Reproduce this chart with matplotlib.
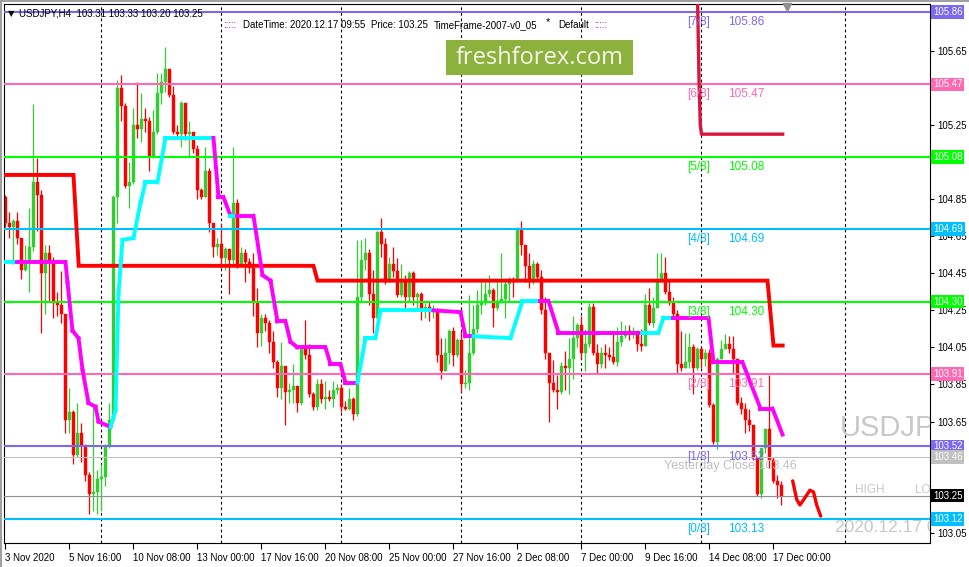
import matplotlib
matplotlib.use('Agg')
import matplotlib.pyplot as plt
from matplotlib.patches import Rectangle

plt.rcParams['font.family'] = ['Liberation Sans', 'DejaVu Sans']

# H4 candles, 3 Nov 2020 00:00 .. 17 Dec 2020 08:00 (bar index 0..194)
first_open = 104.86
closes = [
    104.72, 104.70, 104.73, 104.64, 104.47, 104.50, 104.59, 104.94, 104.87, 104.45,
    104.56, 104.51, 104.29, 104.28, 104.23, 103.66, 103.70, 103.47, 103.59, 103.52,
    103.36, 103.26, 103.27, 103.34, 103.35, 103.52, 103.66, 104.86, 105.45, 105.35,
    104.92, 104.94, 105.25, 105.23, 105.28, 105.27, 105.08, 105.21, 105.42, 105.48,
    105.55, 105.41, 105.21, 105.20, 105.37, 105.20, 105.21, 105.12, 104.90, 104.86,
    105.00, 104.72, 104.59, 104.61, 104.53, 104.58, 104.52, 104.83, 104.50, 104.56,
    104.51, 104.48, 104.29, 104.13, 104.21, 104.18, 104.08, 103.97, 103.83, 103.95,
    103.81, 103.82, 103.84, 103.75, 104.05, 104.01, 103.80, 103.73, 103.85, 103.77,
    103.78, 103.77, 103.82, 103.83, 103.73, 103.72, 103.77, 103.69, 104.32, 104.52,
    104.56, 104.34, 104.21, 104.67, 104.61, 104.40, 104.50, 104.46, 104.33, 104.40,
    104.32, 104.45, 104.32, 104.34, 104.26, 104.27, 104.24, 104.25, 104.01, 103.92,
    104.02, 104.14, 104.01, 104.09, 103.85, 103.86, 104.02, 104.15, 104.28, 104.29,
    104.34, 104.36, 104.26, 104.30, 104.31, 104.39, 104.42, 104.40, 104.69, 104.60,
    104.49, 104.40, 104.50, 104.43, 104.25, 104.02, 103.86, 103.82, 103.81, 103.95,
    103.94, 103.99, 104.10, 104.17, 104.02, 104.07, 104.27, 104.02, 103.96, 104.02,
    104.01, 104.00, 103.97, 104.08, 104.11, 104.14, 104.13, 104.14, 104.07, 104.06,
    104.28, 104.18, 104.26, 104.40, 104.45, 104.35, 104.29, 104.23, 103.96, 103.94,
    103.97, 104.05, 103.94, 104.04, 103.99, 104.02, 103.74, 103.54, 103.99, 104.04,
    104.07, 104.04, 103.99, 103.75, 103.72, 103.66, 103.63, 103.46, 103.26, 103.51,
    103.61, 103.44, 103.33, 103.31, 103.25,
]
highs = [
    104.87, 104.78, 104.74, 104.78, 104.64, 104.60, 104.80, 105.36, 105.07, 104.90,
    104.60, 104.60, 104.54, 104.35, 104.46, 104.23, 103.83, 103.71, 103.75, 103.64,
    103.53, 103.38, 103.73, 103.39, 103.42, 103.53, 103.75, 104.87, 105.49, 105.52,
    105.37, 105.05, 105.34, 105.48, 105.42, 105.34, 105.29, 105.33, 105.53, 105.53,
    105.67, 105.55, 105.46, 105.25, 105.38, 105.37, 105.27, 105.21, 105.14, 104.91,
    105.13, 105.02, 104.72, 104.64, 104.72, 104.59, 104.56, 105.13, 104.85, 104.59,
    104.58, 104.53, 104.56, 104.37, 104.23, 104.23, 104.20, 104.14, 103.98, 104.08,
    103.94, 103.86, 103.96, 103.83, 104.05, 104.20, 104.07, 103.81, 103.88, 103.88,
    103.87, 103.82, 103.87, 103.85, 103.85, 103.76, 103.83, 103.78, 104.63, 104.63,
    104.64, 104.58, 104.47, 104.68, 104.75, 104.64, 104.54, 104.59, 104.53, 104.50,
    104.44, 104.46, 104.46, 104.35, 104.35, 104.29, 104.30, 104.28, 104.26, 104.10,
    104.10, 104.15, 104.16, 104.10, 104.14, 103.93, 104.33, 104.28, 104.36, 104.40,
    104.40, 104.44, 104.37, 104.42, 104.56, 104.42, 104.43, 104.43, 104.70, 104.73,
    104.60, 104.56, 104.52, 104.51, 104.47, 104.32, 104.02, 103.98, 103.90, 103.97,
    104.03, 104.10, 104.22, 104.18, 104.22, 104.15, 104.29, 104.29, 104.07, 104.05,
    104.07, 104.05, 104.12, 104.16, 104.19, 104.17, 104.17, 104.16, 104.14, 104.15,
    104.34, 104.37, 104.32, 104.56, 104.56, 104.54, 104.41, 104.32, 104.25, 104.14,
    104.13, 104.13, 104.07, 104.05, 104.05, 104.04, 104.04, 103.75, 104.00, 104.09,
    104.12, 104.11, 104.11, 103.99, 103.78, 103.75, 103.72, 103.62, 103.46, 103.51,
    103.61, 103.90, 103.46, 103.36, 103.33,
]
lows = [
    104.70, 104.64, 104.50, 104.61, 104.42, 104.46, 104.35, 104.57, 104.68, 104.13,
    104.23, 104.30, 104.21, 104.22, 104.18, 103.59, 103.59, 103.42, 103.46, 103.43,
    103.33, 103.15, 103.17, 103.15, 103.17, 103.30, 103.51, 103.64, 104.72, 105.27,
    104.91, 104.80, 104.93, 105.18, 105.16, 105.21, 105.00, 105.07, 105.20, 105.36,
    105.43, 105.40, 105.20, 105.18, 105.13, 105.17, 105.08, 105.10, 104.85, 104.85,
    104.86, 104.67, 104.54, 104.55, 104.48, 104.47, 104.34, 104.50, 104.48, 104.50,
    104.40, 104.45, 104.22, 104.05, 104.06, 104.14, 104.02, 103.94, 103.78, 103.77,
    103.63, 103.75, 103.75, 103.70, 103.74, 103.99, 103.78, 103.71, 103.71, 103.75,
    103.72, 103.76, 103.73, 103.80, 103.70, 103.71, 103.71, 103.66, 103.68, 104.30,
    104.47, 104.28, 104.13, 104.20, 104.54, 104.39, 104.41, 104.43, 104.32, 104.32,
    104.25, 104.30, 104.28, 104.26, 104.20, 104.21, 104.19, 104.21, 103.97, 103.88,
    103.93, 103.96, 103.95, 104.00, 103.81, 103.83, 103.82, 104.01, 104.13, 104.23,
    104.28, 104.32, 104.16, 104.25, 104.29, 104.21, 104.30, 104.32, 104.41, 104.55,
    104.40, 104.37, 104.39, 104.42, 104.23, 103.99, 103.65, 103.81, 103.72, 103.80,
    103.82, 103.80, 103.88, 104.05, 103.99, 103.92, 104.05, 104.01, 103.91, 103.94,
    103.94, 103.98, 103.96, 103.95, 104.06, 104.10, 104.09, 104.10, 104.03, 104.03,
    104.10, 104.17, 104.16, 104.26, 104.40, 104.34, 104.28, 104.22, 103.91, 103.92,
    103.94, 103.94, 103.80, 103.93, 103.94, 103.95, 103.73, 103.53, 103.50, 103.99,
    104.04, 104.02, 103.91, 103.74, 103.69, 103.59, 103.60, 103.44, 103.25, 103.24,
    103.48, 103.40, 103.32, 103.24, 103.20,
]

# x axis labels every 16 bars
date_ticks = [0, 16, 32, 48, 64, 80, 96, 112, 128, 144, 160, 176, 192]
date_labels = ['3 Nov 2020', '5 Nov 16:00', '10 Nov 08:00', '13 Nov 00:00', '17 Nov 16:00',
               '20 Nov 08:00', '25 Nov 00:00', '27 Nov 16:00', '2 Dec 08:00', '7 Dec 00:00',
               '9 Dec 16:00', '14 Dec 08:00', '17 Dec 00:00']
week_separators = [24, 54, 84, 114, 144, 174, 210]
price_ticks = [103.05, 103.25, 103.45, 103.65, 103.85, 104.05, 104.25, 104.45,
               104.65, 104.85, 105.05, 105.25, 105.45, 105.65, 105.85]
# these tick labels sit right under a price box, so only the tick mark shows
hidden_ticks = [103.25, 103.45, 105.05, 105.45, 105.85]

# Murrey math levels
mm_levels = [103.125, 103.516, 103.906, 104.297, 104.688, 105.078, 105.469, 105.859]
mm_names = ['[0/8]', '[1/8]', '[2/8]', '[3/8]', '[4/8]', '[5/8]', '[6/8]', '[7/8]']
mm_text = ['103.13', '103.52', '103.91', '104.30', '104.69', '105.08', '105.47', '105.86']
mm_colors = ['#00BFFF', '#7B68EE', '#FF69B4', '#00FF00', '#00BFFF', '#00FF00', '#FF69B4', '#7B68EE']

yesterday_close = 103.46
last_price = 103.25

# red step line (higher timeframe)
red_bar = [0, 17, 18.3, 77, 78, 190.5, 192, 194.3]
red_price = [104.98, 104.98, 104.49, 104.49, 104.41, 104.41, 104.06, 104.06]
red2_bar = [173, 173.4, 173.7, 174, 194.3]
red2_price = [105.95, 105.47, 105.25, 105.20, 105.20]

# two-colour trend line: c = rising (aqua), m = falling (magenta)
trend_bar = [0, 3, 15, 15.5, 16.75, 18.25, 19.25, 20.75, 22.5, 23.25,
             26.25, 27.5, 28.25, 29.25, 32, 33.75, 35, 38, 40, 52,
             53.25, 54.5, 56.25, 58, 62, 64.25, 66.25, 68, 70, 71.25,
             73, 80, 81.25, 83.75, 85, 88, 90, 92.5, 93.75, 107,
             113.75, 115, 117, 126.25, 129.25, 133.75, 135.75, 138.25, 159.25, 163.25,
             164.5, 167, 175.75, 177, 184.25, 188.75, 191.75, 194.25]
trend_price = [104.51, 104.51, 104.51, 104.40, 104.14, 104.10, 103.93, 103.75, 103.73, 103.65,
               103.62, 103.71, 104.34, 104.63, 104.64, 104.83, 104.94, 104.94, 105.18, 105.18,
               104.86, 104.86, 104.76, 104.76, 104.76, 104.44, 104.41, 104.19, 104.19, 104.08,
               104.05, 104.05, 103.96, 103.96, 103.86, 103.86, 104.10, 104.10, 104.25, 104.25,
               104.24, 104.11, 104.11, 104.10, 104.30, 104.30, 104.30, 104.13, 104.13, 104.13,
               104.21, 104.21, 104.21, 103.97, 103.97, 103.72, 103.72, 103.58]
trend_col = 'c' + 'mmmmmmmmm' + 'ccccccccc' + 'mmm' + 'c' + 'mmmmmmmmmmmm' + 'cccc' + 'mmm' + 'ccc' + 'mmm' + 'ccc' + 'mmmmmm'

# projected path squiggle
proj_bar = [196.8, 197.8, 198.6, 199.9, 201.1, 202.0, 202.8, 203.8]
proj_price = [103.33, 103.23, 103.20, 103.24, 103.28, 103.27, 103.20, 103.14]

# right axis price boxes
box_values = [105.859, 105.469, 105.078, 104.688, 104.297, 103.906, 103.516, 103.46, 103.25, 103.125]
box_text = ['105.86', '105.47', '105.08', '104.69', '104.30', '103.91', '103.52', '103.46', '103.25', '103.12']
box_colors = ['#7B68EE', '#FF69B4', '#00FF00', '#00BFFF', '#00FF00', '#FF69B4', '#7B68EE', '#C0C0C0', '#000000', '#00BFFF']

W, H = 970, 567
fig = plt.figure(figsize=(W / 100, H / 100), dpi=100)
ax = fig.add_axes([4 / W, 24 / H, 926 / W, 539 / H])
ax.set_xlim(-0.375, 231.125)
ax.set_ylim(102.995, 105.902)

# week separators
for b in week_separators:
    ax.axvline(b, color='black', lw=0.8, ls=(0, (2.5, 2.5)), zorder=1)

# candles
opens = [first_open] + closes[:-1]
for i in range(len(closes)):
    o, c = opens[i], closes[i]
    col = '#32CD32' if c >= o else '#FF0000'
    lo = min(lows[i], o, c)
    hi = max(highs[i], o, c)
    ax.vlines(i, lo, hi, color=col, lw=0.9, zorder=2)
    ax.bar(i, max(abs(c - o), 0.004), bottom=min(o, c), width=0.72,
           color=col, edgecolor=col, lw=0.3, zorder=2)

# murrey levels and labels
for lvl, nm, tx, col in zip(mm_levels, mm_names, mm_text, mm_colors):
    ax.axhline(lvl, color=col, lw=1.5, zorder=3)
    ax.annotate(nm, xy=(170.4, lvl), xytext=(0, -3), textcoords='offset points',
                color=col, fontsize=8.5, ha='left', va='top', zorder=6)
    ax.annotate(tx, xy=(180.6, lvl), xytext=(0, -3), textcoords='offset points',
                color=col, fontsize=8.5, ha='left', va='top', zorder=6)

ax.axhline(yesterday_close, color='#C0C0C0', lw=0.8, zorder=3)
ax.axhline(last_price, color='#8C9090', lw=0.8, zorder=3)
ax.annotate('Yesterday Close 103.46', xy=(164.6, yesterday_close), xytext=(0, -2),
            textcoords='offset points', color='#C0C0C0', fontsize=9, ha='left', va='top', zorder=6)

# red step lines
ax.plot(red_bar, red_price, color='#FF0000', lw=2.8, solid_joinstyle='miter', zorder=4)
ax.plot(red2_bar, red2_price, color='#DC143C', lw=2.4, zorder=4)

# two colour trend line
for k in range(len(trend_bar) - 1):
    col = '#00FFFF' if trend_col[k] == 'c' else '#FF00FF'
    ax.plot(trend_bar[k:k + 2], trend_price[k:k + 2], color=col, lw=2.8,
            solid_capstyle='projecting', zorder=5)

ax.plot(proj_bar, proj_price, color='#FF0000', lw=2.4, solid_capstyle='round', zorder=5)

# right side grey texts (clipped by the chart edge)
ax.text(208.6, 103.615, 'USDJPY', color='#C8C8C8', fontsize=21, va='center', ha='left', clip_on=True)
ax.text(212.4, 103.281, 'HIGH', color='#C8C8C8', fontsize=8.5, va='center', ha='left', clip_on=True)
ax.text(227.4, 103.281, 'LOW', color='#C8C8C8', fontsize=8.5, va='center', ha='left', clip_on=True)
ax.text(207.4, 103.081, '2020.12.17 09:55', color='#C8C8C8', fontsize=12.5, va='center', ha='left', clip_on=True)

# chart shift marker
ax.plot([195.4], [105.886], marker='v', color='#909090', ms=6, clip_on=False, zorder=6)

# header texts
ax.text(0.004, 0.983, '\u25bc', transform=ax.transAxes, fontsize=6, va='center', ha='left',
        family=['DejaVu Sans'])
ax.text(0.016, 0.983, 'USDJPY,H4  103.31 103.33 103.20 103.25', transform=ax.transAxes,
        fontsize=7, va='center', ha='left')
hy = 1 - 21 / 539
ax.text((223 - 4) / 926, hy, ':::::', transform=ax.transAxes, fontsize=7, color='#800080', va='center')
ax.text((243 - 4) / 926, hy, 'DateTime: 2020.12.17 09:55', transform=ax.transAxes, fontsize=7, va='center')
ax.text((371 - 4) / 926, hy, 'Price: 103.25', transform=ax.transAxes, fontsize=7, va='center')
ax.text((434 - 4) / 926, hy, 'TimeFrame-2007-v0_05', transform=ax.transAxes, fontsize=7, va='center')
ax.text((546 - 4) / 926, hy + 0.006, '*', transform=ax.transAxes, fontsize=8, va='center')
ax.text((558 - 4) / 926, hy, 'Default', transform=ax.transAxes, fontsize=7, va='center')
ax.text((594 - 4) / 926, hy, ':::::', transform=ax.transAxes, fontsize=7, color='#800080', va='center')

# freshforex watermark
ax.add_patch(Rectangle(((446 - 4) / 926, (543 - 75) / 539), 187 / 926, 35 / 539,
                       transform=ax.transAxes, facecolor='#8DB13D', edgecolor='none', zorder=7))
ax.text((539.5 - 4) / 926, (543 - 58) / 539, 'freshforex.com', transform=ax.transAxes,
        color='#F4F6EC', fontsize=17, family=['Open Sans', 'DejaVu Sans'],
        ha='center', va='center', zorder=8)

# axes styling
for sp in ax.spines.values():
    sp.set_color('black')
    sp.set_linewidth(0.8)
ax.yaxis.tick_right()
ax.set_yticks(price_ticks)
ax.set_yticklabels(['' if v in hidden_ticks else '%.2f' % v for v in price_ticks])
ax.tick_params(axis='y', direction='out', length=3, width=0.8, labelsize=7, pad=2)
ax.set_xticks(date_ticks)
ax.set_xticklabels(date_labels)
ax.tick_params(axis='x', direction='out', length=4, width=0.8, labelsize=7, pad=3)
for lab in ax.get_xticklabels():
    lab.set_horizontalalignment('left')

for v, tx, col in zip(box_values, box_text, box_colors):
    ax.annotate(tx, xy=(1, v), xycoords=('axes fraction', 'data'), xytext=(2.2, 0),
                textcoords='offset points', color='white', fontsize=7, ha='left', va='center',
                annotation_clip=False, zorder=10,
                bbox=dict(boxstyle='square,pad=0.18', facecolor=col, edgecolor='none'))

# window border
fig.add_artist(plt.Line2D([0, 1], [1 - 1 / H, 1 - 1 / H], color='#A0A0A0', lw=1.5, transform=fig.transFigure))
fig.add_artist(plt.Line2D([1 / W, 1 / W], [0, 1], color='#A0A0A0', lw=1.5, transform=fig.transFigure))

fig.savefig('out.png', dpi=100)
